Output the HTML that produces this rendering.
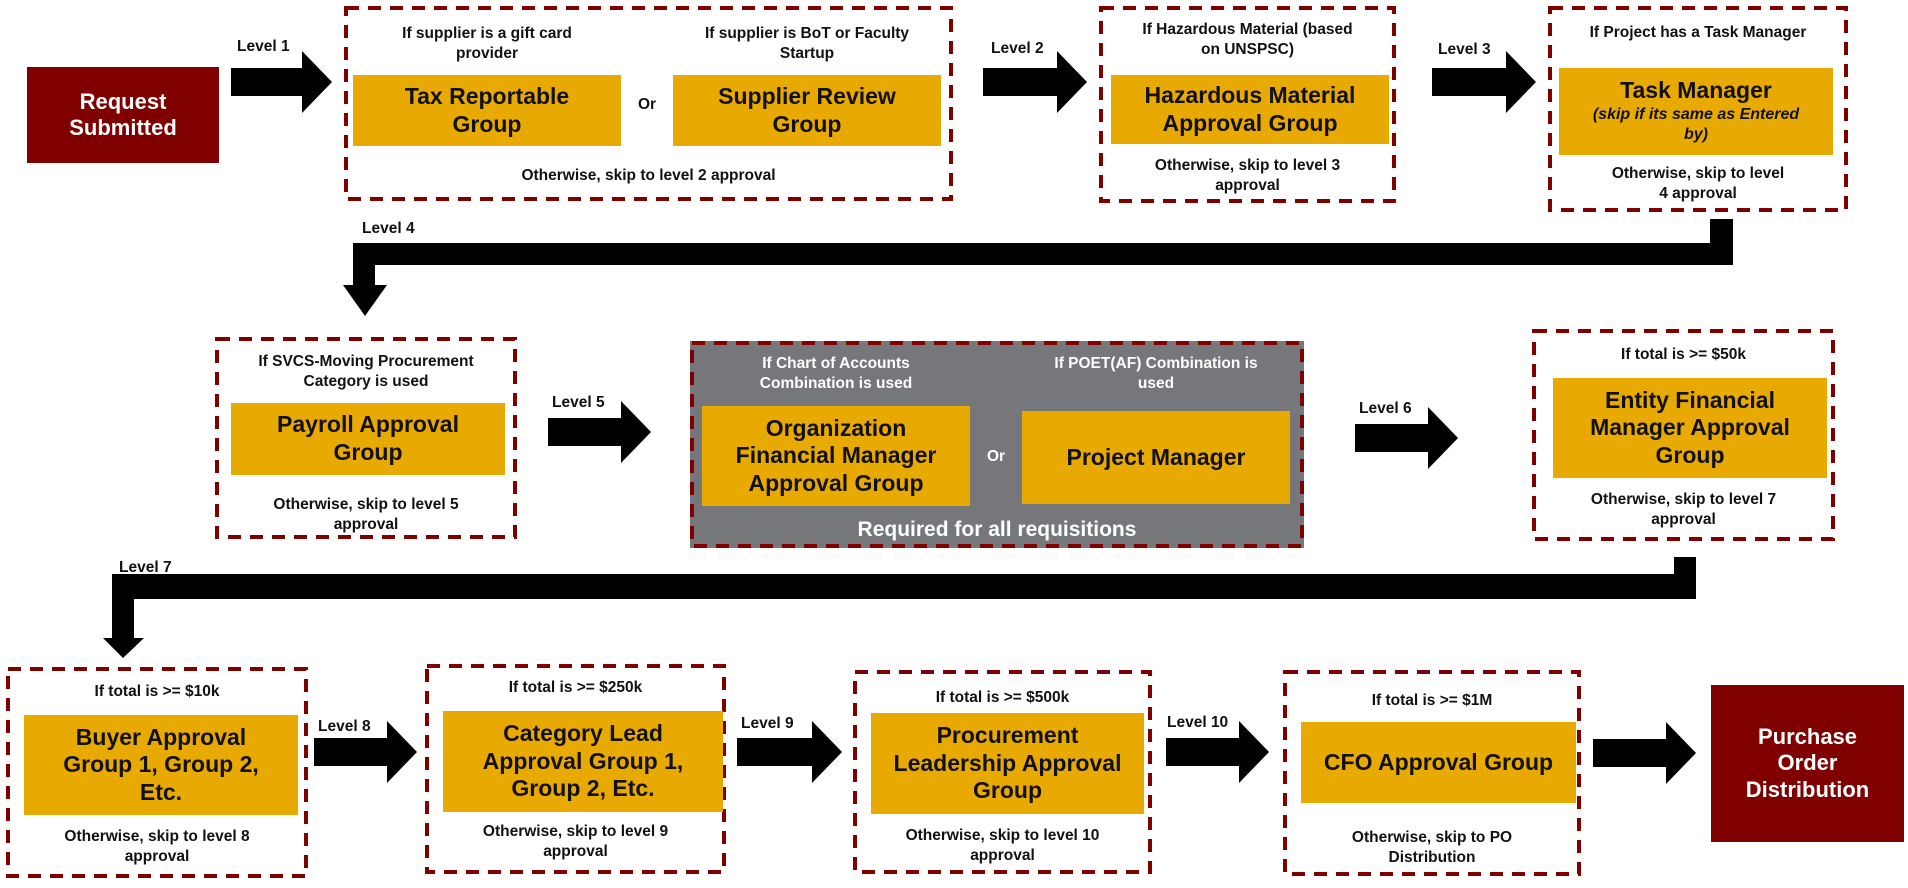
<!DOCTYPE html>
<html><head><meta charset="utf-8"><style>
html,body{margin:0;padding:0;background:#fff;}
#c{position:relative;width:1908px;height:888px;overflow:hidden;font-family:"Liberation Sans Narrow","Liberation Sans",Arial,sans-serif;font-weight:bold;}
svg{position:absolute;left:0;top:0;}
.b{position:absolute;display:flex;align-items:center;justify-content:center;text-align:center;line-height:1.2;}
.o{background:#e8aa00;color:#111;font-size:23px;}
.r{background:#800000;color:#fff;font-size:22px;}
.t{position:absolute;text-align:center;font-size:15.5px;color:#111;line-height:1.3;}
.w{color:#fff;}
.l{position:absolute;font-size:15.5px;color:#111;}
</style></head><body><div id="c">
<svg width="1908" height="888" viewBox="0 0 1908 888">
<g fill="#000">
<polygon points="231,68 302,68 302,51 332,82 302,113 302,96 231,96"/>
<polygon points="983,68 1057,68 1057,51 1087,82 1057,113 1057,96 983,96"/>
<polygon points="1432,68 1506,68 1506,51 1536,82 1506,113 1506,96 1432,96"/>
<polygon points="548,418 621,418 621,401 651,432 621,463 621,446 548,446"/>
<polygon points="1355,424 1428,424 1428,407 1458,438 1428,469 1428,452 1355,452"/>
<polygon points="314,738 387,738 387,721 417,752 387,783 387,766 314,766"/>
<polygon points="737,738 812,738 812,721 842,752 812,783 812,766 737,766"/>
<polygon points="1166,738 1239,738 1239,721 1269,752 1239,783 1239,766 1166,766"/>
<polygon points="1593,739 1666,739 1666,722 1696,753 1666,784 1666,767 1593,767"/>
<polygon points="1710,219 1733,219 1733,265 375,265 375,285 387,285 365,316 343,285 353,285 353,243 1710,243"/>
<polygon points="1674,557 1696,557 1696,599 134,599 134,638 144,638 123,658 103,638 112,638 112,574 1674,574"/>
</g>
<rect x="690" y="341" width="614" height="207" fill="#75777a"/>
<g fill="none" stroke="#800000" stroke-width="4" stroke-dasharray="13 9">
<rect x="346" y="8" width="605" height="191"/>
<rect x="1101" y="8" width="293" height="193"/>
<rect x="1550" y="8" width="296" height="202"/>
<rect x="217" y="339" width="298" height="198"/>
<rect x="692" y="343" width="610" height="203"/>
<rect x="1534" y="331" width="299" height="208"/>
<rect x="8" y="669" width="298" height="207"/>
<rect x="427" y="666" width="297" height="206"/>
<rect x="855" y="672" width="295" height="200"/>
<rect x="1285" y="672" width="294" height="202"/>
</g>
</svg>

<div class="b r" style="left:27px;top:67px;width:192px;height:96px;">Request<br>Submitted</div>
<div class="b r" style="left:1711px;top:685px;width:193px;height:157px;">Purchase<br>Order<br>Distribution</div>

<div class="l" style="left:237px;top:38px;">Level 1</div>
<div class="l" style="left:991px;top:40px;">Level 2</div>
<div class="l" style="left:1438px;top:41px;">Level 3</div>
<div class="l" style="left:362px;top:220px;">Level 4</div>
<div class="l" style="left:552px;top:394px;">Level 5</div>
<div class="l" style="left:1359px;top:400px;">Level 6</div>
<div class="l" style="left:119px;top:559px;">Level 7</div>
<div class="l" style="left:318px;top:718px;">Level 8</div>
<div class="l" style="left:741px;top:715px;">Level 9</div>
<div class="l" style="left:1167px;top:714px;">Level 10</div>

<div class="t" style="left:353px;top:24px;width:268px;">If supplier is a gift card<br>provider</div>
<div class="t" style="left:673px;top:24px;width:268px;">If supplier is BoT or Faculty<br>Startup</div>
<div class="b o" style="left:353px;top:75px;width:268px;height:71px;">Tax Reportable<br>Group</div>
<div class="t" style="left:621px;top:95px;width:52px;">Or</div>
<div class="b o" style="left:673px;top:75px;width:268px;height:71px;">Supplier Review<br>Group</div>
<div class="t" style="left:346px;top:166px;width:605px;">Otherwise, skip to level 2 approval</div>

<div class="t" style="left:1101px;top:20px;width:293px;">If Hazardous Material (based<br>on UNSPSC)</div>
<div class="b o" style="left:1111px;top:75px;width:278px;height:69px;">Hazardous Material<br>Approval Group</div>
<div class="t" style="left:1101px;top:156px;width:293px;">Otherwise, skip to level 3<br>approval</div>

<div class="t" style="left:1550px;top:23px;width:296px;">If Project has a Task Manager</div>
<div class="b o" style="left:1559px;top:68px;width:274px;height:87px;flex-direction:column;"><span>Task Manager</span><span style="font-size:16px;font-style:italic;line-height:1.3;">(skip if its same as Entered<br>by)</span></div>
<div class="t" style="left:1550px;top:164px;width:296px;">Otherwise, skip to level<br>4 approval</div>

<div class="t" style="left:217px;top:352px;width:298px;">If SVCS-Moving Procurement<br>Category is used</div>
<div class="b o" style="left:231px;top:403px;width:274px;height:72px;">Payroll Approval<br>Group</div>
<div class="t" style="left:217px;top:495px;width:298px;">Otherwise, skip to level 5<br>approval</div>

<div class="t w" style="left:702px;top:354px;width:268px;">If Chart of Accounts<br>Combination is used</div>
<div class="t w" style="left:1022px;top:354px;width:268px;">If POET(AF) Combination is<br>used</div>
<div class="b o" style="left:702px;top:406px;width:268px;height:100px;">Organization<br>Financial Manager<br>Approval Group</div>
<div class="t w" style="left:970px;top:447px;width:52px;">Or</div>
<div class="b o" style="left:1022px;top:411px;width:268px;height:93px;">Project Manager</div>
<div class="t w" style="left:690px;top:516px;width:614px;font-size:21px;">Required for all requisitions</div>

<div class="t" style="left:1534px;top:345px;width:299px;">If total is &gt;= $50k</div>
<div class="b o" style="left:1553px;top:378px;width:274px;height:100px;">Entity Financial<br>Manager Approval<br>Group</div>
<div class="t" style="left:1534px;top:490px;width:299px;">Otherwise, skip to level 7<br>approval</div>

<div class="t" style="left:8px;top:682px;width:298px;">If total is &gt;= $10k</div>
<div class="b o" style="left:24px;top:715px;width:274px;height:100px;">Buyer Approval<br>Group 1, Group 2,<br>Etc.</div>
<div class="t" style="left:8px;top:827px;width:298px;">Otherwise, skip to level 8<br>approval</div>

<div class="t" style="left:427px;top:678px;width:297px;">If total is &gt;= $250k</div>
<div class="b o" style="left:443px;top:711px;width:280px;height:101px;">Category Lead<br>Approval Group 1,<br>Group 2, Etc.</div>
<div class="t" style="left:427px;top:822px;width:297px;">Otherwise, skip to level 9<br>approval</div>

<div class="t" style="left:855px;top:688px;width:295px;">If total is &gt;= $500k</div>
<div class="b o" style="left:871px;top:713px;width:273px;height:101px;">Procurement<br>Leadership Approval<br>Group</div>
<div class="t" style="left:855px;top:826px;width:295px;">Otherwise, skip to level 10<br>approval</div>

<div class="t" style="left:1285px;top:691px;width:294px;">If total is &gt;= $1M</div>
<div class="b o" style="left:1301px;top:722px;width:275px;height:81px;">CFO Approval Group</div>
<div class="t" style="left:1285px;top:828px;width:294px;">Otherwise, skip to PO<br>Distribution</div>
</div></body></html>
